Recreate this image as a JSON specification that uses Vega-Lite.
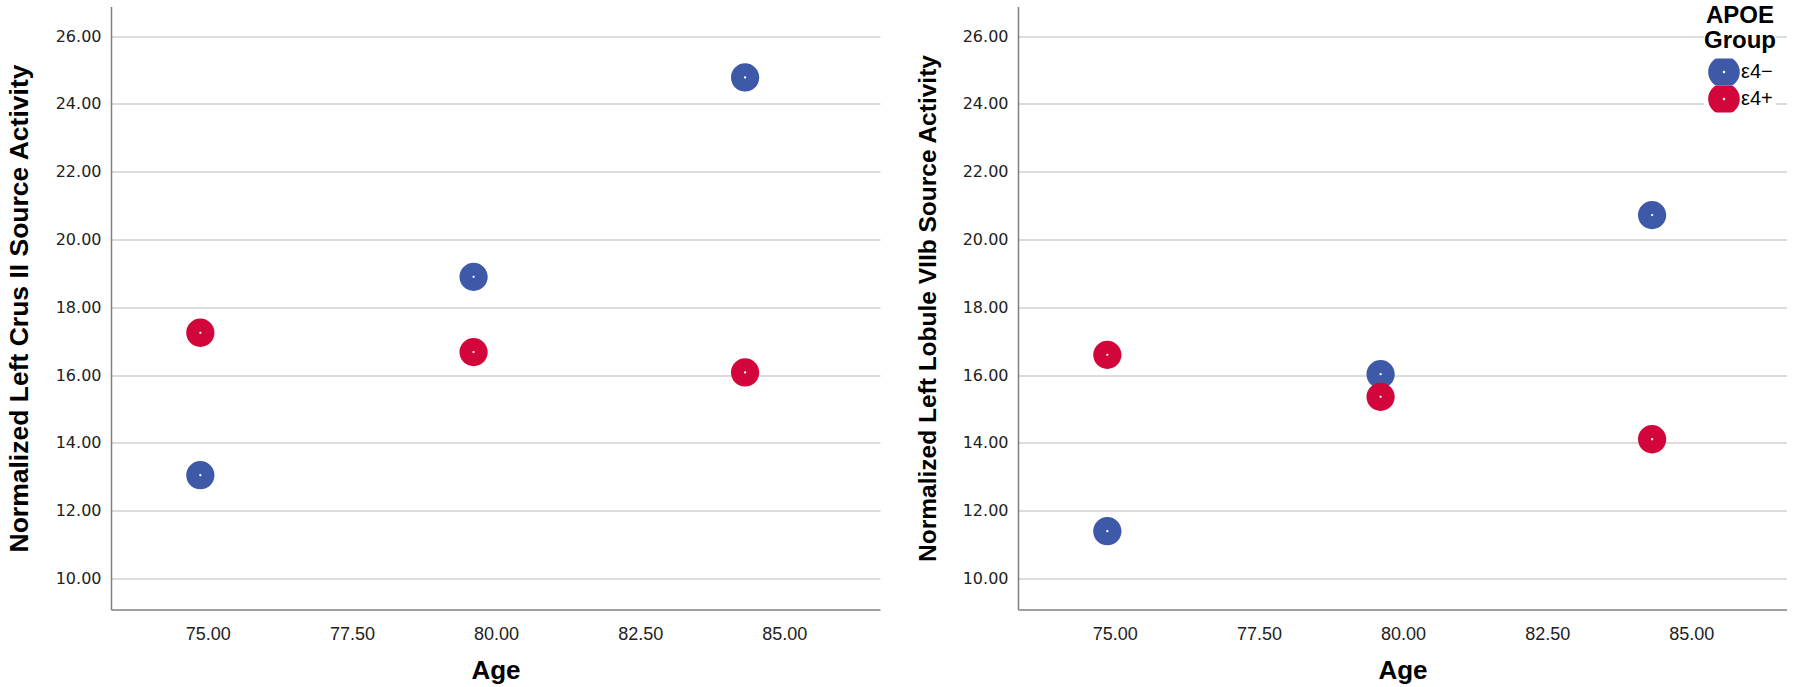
{
  "$schema": "https://vega.github.io/schema/vega-lite/v6.json",
  "background": "white",
  "padding": {"left": 6, "top": 3.5, "right": 0, "bottom": 0},
  "bounds": "flush",
  "spacing": 138,
  "datasets": {
    "crus": [
      {"age": 74.87, "activity": 13.05, "group": "ε4−"},
      {"age": 74.87, "activity": 17.25, "group": "ε4+"},
      {"age": 79.61, "activity": 18.90, "group": "ε4−"},
      {"age": 79.61, "activity": 16.68, "group": "ε4+"},
      {"age": 84.32, "activity": 24.78, "group": "ε4−"},
      {"age": 84.32, "activity": 16.08, "group": "ε4+"}
    ],
    "lobule": [
      {"age": 74.87, "activity": 11.40, "group": "ε4−"},
      {"age": 74.87, "activity": 16.60, "group": "ε4+"},
      {"age": 79.61, "activity": 16.03, "group": "ε4−"},
      {"age": 79.61, "activity": 15.36, "group": "ε4+"},
      {"age": 84.32, "activity": 20.72, "group": "ε4−"},
      {"age": 84.32, "activity": 14.11, "group": "ε4+"}
    ]
  },
  "config": {
    "view": {"stroke": null},
    "axis": {
      "ticks": false,
      "domainColor": "#808080",
      "domainWidth": 1.5,
      "gridColor": "#D0D0D0",
      "gridWidth": 1.5,
      "labelColor": "#222222",
      "titleColor": "#000000",
      "titleFont": "Liberation Sans",
      "titleFontWeight": "bold"
    }
  },
  "hconcat": [
    {
      "width": 769,
      "height": 603,
      "data": {"name": "crus"},
      "mark": {"type": "point", "filled": true, "opacity": 1, "size": 800,
        "shape": "M-1,0A1,1,0,1,0,1,0A1,1,0,1,0,-1,0ZM-0.08,0A0.08,0.08,0,1,1,0.08,0A0.08,0.08,0,1,1,-0.08,0Z"},
      "encoding": {
        "x": {"field": "age", "type": "quantitative", "title": "Age",
          "scale": {"domain": [73.32, 86.66], "nice": false, "zero": false},
          "axis": {"values": [75, 77.5, 80, 82.5, 85], "format": ".2f", "grid": false,
            "labelFont": "Liberation Sans", "labelFontSize": 18, "labelPadding": 16,
            "titleFontSize": 26, "titlePadding": 14}},
        "y": {"field": "activity", "type": "quantitative", "title": "Normalized Left Crus II Source Activity",
          "scale": {"domain": [9.09, 26.87], "nice": false, "zero": false},
          "axis": {"values": [10, 12, 14, 16, 18, 20, 22, 24, 26], "format": ".2f",
            "labelFont": "DejaVu Sans", "labelFontSize": 16, "labelPadding": 10,
            "titleFontSize": 26.5, "titlePadding": 22}},
        "color": {"field": "group", "type": "nominal",
          "scale": {"domain": ["ε4−", "ε4+"], "range": ["#3D59A8", "#D2063B"]},
          "legend": {
            "title": ["APOE", "Group"],
            "orient": "none", "legendX": 1593, "legendY": -3,
            "fillColor": "white", "padding": 0,
            "titleFont": "Liberation Sans", "titleFontWeight": "bold", "titleFontSize": 24,
            "titleLineHeight": 25,
            "titleColor": "#000000", "titleAlign": "center", "titleAnchor": "middle", "titlePadding": 6,
            "labelFont": "Liberation Sans", "labelFontSize": 20, "labelColor": "#000000", "labelOffset": 1,
            "symbolSize": 1000, "symbolOpacity": 1, "symbolStrokeWidth": 0,
            "symbolType": "M-1,0A1,1,0,1,0,1,0A1,1,0,1,0,-1,0ZM-0.08,0A0.08,0.08,0,1,1,0.08,0A0.08,0.08,0,1,1,-0.08,0Z",
            "clipHeight": 27,
            "rowPadding": 0
          }}
      }
    },
    {
      "width": 769,
      "height": 603,
      "data": {"name": "lobule"},
      "mark": {"type": "point", "filled": true, "opacity": 1, "size": 800,
        "shape": "M-1,0A1,1,0,1,0,1,0A1,1,0,1,0,-1,0ZM-0.08,0A0.08,0.08,0,1,1,0.08,0A0.08,0.08,0,1,1,-0.08,0Z"},
      "encoding": {
        "x": {"field": "age", "type": "quantitative", "title": "Age",
          "scale": {"domain": [73.32, 86.66], "nice": false, "zero": false},
          "axis": {"values": [75, 77.5, 80, 82.5, 85], "format": ".2f", "grid": false,
            "labelFont": "Liberation Sans", "labelFontSize": 18, "labelPadding": 16,
            "titleFontSize": 26, "titlePadding": 14}},
        "y": {"field": "activity", "type": "quantitative", "title": "Normalized Left Lobule VIIb Source Activity",
          "scale": {"domain": [9.09, 26.87], "nice": false, "zero": false},
          "axis": {"values": [10, 12, 14, 16, 18, 20, 22, 24, 26], "format": ".2f",
            "labelFont": "DejaVu Sans", "labelFontSize": 16, "labelPadding": 10,
            "titleFontSize": 24.5, "titlePadding": 22}},
        "color": {"field": "group", "type": "nominal",
          "scale": {"domain": ["ε4−", "ε4+"], "range": ["#3D59A8", "#D2063B"]}}
      }
    }
  ]
}
